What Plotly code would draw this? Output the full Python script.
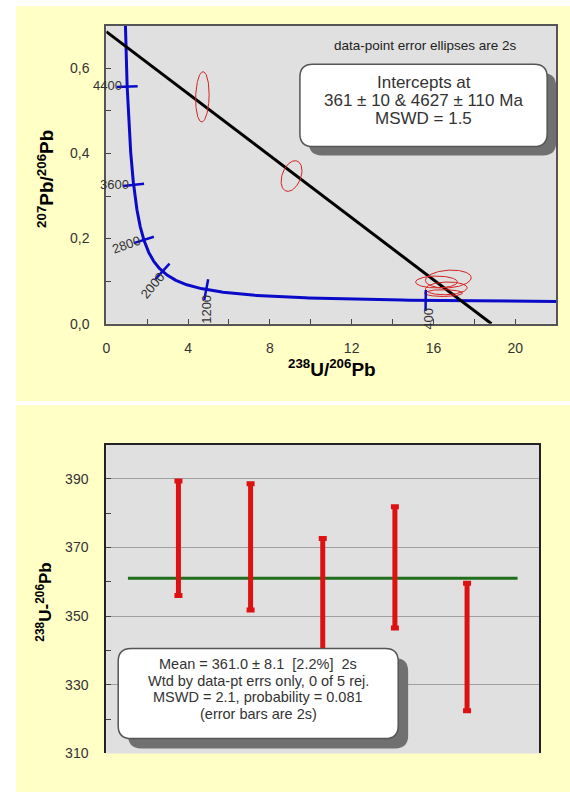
import numpy as np
import plotly.graph_objects as go

W, H = 570, 800

# ---------------- top panel: Tera-Wasserburg concordia ----------------
LAMBDA_238 = 1.55125e-10   # 1/yr
LAMBDA_235 = 9.8485e-10    # 1/yr
U238_U235 = 137.88

concordia_age_min_ma = 250
concordia_age_max_ma = 5000
concordia_steps = 500

age_tick_ages = [400, 1200, 2000, 2800, 3600, 4400]
age_tick_labels = ["400", "1200", "2000", "2800", "3600", "4400"]

intercept_lower_ma = 361
intercept_upper_ma = 4627

# data-point error ellipses (2s): centre, half-widths, error correlation
ell_x = [4.70, 9.06, 16.73, 16.15, 16.63, 16.49]
ell_y = [0.533, 0.347, 0.105, 0.098, 0.083, 0.072]
ell_sx = [0.33, 0.51, 1.12, 1.02, 1.02, 0.93]
ell_sy = [0.059, 0.036, 0.021, 0.014, 0.015, 0.008]
ell_rho = [0.10, 0.35, 0.15, 0.0, 0.10, 0.0]

x1_tick_vals = [0, 4, 8, 12, 16, 20]
x1_tick_text = ["0", "4", "8", "12", "16", "20"]
x1_minor_vals = [2, 6, 10, 14, 18]
y1_tick_vals = [0.0, 0.2, 0.4, 0.6]
y1_tick_text = ["0,0", "0,2", "0,4", "0,6"]
y1_minor_vals = [0.1, 0.3, 0.5]

# ---------------- bottom panel: weighted mean ----------------
spot = [1, 2, 3, 4, 5]
age_238 = [372.7, 370.2, 355.5, 364.2, 341.0]
age_err = [16.7, 18.4, 17.1, 17.7, 18.6]
mean_age = 361.0
mean_x_span = [0.3, 5.7]
y2_tick_vals = [310, 330, 350, 370, 390]
y2_minor_vals = [320, 340, 360, 380]

# ---------------- layout geometry (pixels) ----------------
P1 = dict(l=103, r=556, t=26, b=327)
P2 = dict(l=103, r=539, t=449, b=761)
X1_RANGE = [0, 22]
Y1_RANGE = [0, 0.7]
X2_RANGE = [0, 6]
Y2_RANGE = [310, 400]

YELLOW = "#FFFFC6"
GREY = "#E0E0E0"
FONT = "Arial, Liberation Sans, sans-serif"
TXT = "#333333"


def px(xp):
    return xp / W


def py(yp):
    return 1 - yp / H


def concordia(t_ma):
    t = np.asarray(t_ma, dtype=float) * 1e6
    e8 = np.exp(LAMBDA_238 * t) - 1
    e5 = np.exp(LAMBDA_235 * t) - 1
    return 1 / e8, e5 / e8 / U238_U235


fig = go.Figure()

# concordia curve
t_curve = np.linspace(concordia_age_min_ma, concordia_age_max_ma, concordia_steps)
cx, cy = concordia(t_curve)
fig.add_trace(go.Scatter(x=cx, y=cy, mode="lines",
                         line=dict(color="#0A0AC8", width=3),
                         xaxis="x", yaxis="y", hoverinfo="skip"))

# discordia through the two intercepts
xl, yl = concordia(intercept_lower_ma)
xu, yu = concordia(intercept_upper_ma)
slope = (yu - yl) / (xu - xl)
y0 = yu - slope * xu
x_end = -y0 / slope
fig.add_trace(go.Scatter(x=[0, x_end], y=[y0, 0], mode="lines",
                         line=dict(color="black", width=3),
                         xaxis="x", yaxis="y", hoverinfo="skip"))

# ellipses
theta = np.linspace(0, 2 * np.pi, 120)
for ex, ey, sx, sy, r in zip(ell_x, ell_y, ell_sx, ell_sy, ell_rho):
    xs = ex + sx * np.cos(theta)
    ys = ey + sy * (r * np.cos(theta) + np.sqrt(1 - r * r) * np.sin(theta))
    fig.add_trace(go.Scatter(x=xs, y=ys, mode="lines",
                             line=dict(color="#D42020", width=1),
                             xaxis="x", yaxis="y", hoverinfo="skip"))

# age ticks on concordia
kx = (P1["r"] - P1["l"]) / (X1_RANGE[1] - X1_RANGE[0])
ky = (P1["b"] - P1["t"]) / (Y1_RANGE[1] - Y1_RANGE[0])
tx, ty = concordia(age_tick_ages)
ta, tya = concordia(np.array(age_tick_ages) + 1.0)
angles = []
for x0_, y0_, x1_, y1_ in zip(tx, ty, ta, tya):
    phi = np.degrees(np.arctan2((y1_ - y0_) * ky, (x1_ - x0_) * kx))
    angles.append(-phi)
fig.add_trace(go.Scatter(x=tx, y=ty, mode="markers",
                         marker=dict(symbol="line-ns", size=15, angle=angles,
                                     line=dict(color="#0A0AC8", width=2.5)),
                         xaxis="x", yaxis="y", hoverinfo="skip"))

label_style = {
    "400": dict(xs=2.5, ys=-18, ang=-90),
    "1200": dict(xs=0, ys=-20, ang=-90),
    "2000": dict(xs=-10, ys=-14, ang=-50),
    "2800": dict(xs=-17, ys=-5, ang=-20),
    "3600": dict(xs=-19, ys=0, ang=0),
    "4400": dict(xs=-20, ys=1, ang=0),
}
annotations = []
for lab, x_, y_ in zip(age_tick_labels, tx, ty):
    s = label_style[lab]
    annotations.append(dict(x=x_, y=y_, xref="x", yref="y", text=lab,
                            showarrow=False, xshift=s["xs"], yshift=s["ys"],
                            textangle=s["ang"], xanchor="center", yanchor="middle",
                            font=dict(family=FONT, size=13, color=TXT)))

# ---------------- bottom panel traces ----------------
fig.add_trace(go.Scatter(x=mean_x_span, y=[mean_age, mean_age], mode="lines",
                         line=dict(color="#1E6E1E", width=3),
                         xaxis="x2", yaxis="y2", hoverinfo="skip"))
fig.add_trace(go.Scatter(x=spot, y=age_238, mode="markers",
                         marker=dict(size=1, color="rgba(0,0,0,0)"),
                         error_y=dict(type="data", array=age_err, visible=True,
                                      color="#DD1111", thickness=5, width=4),
                         xaxis="x2", yaxis="y2", hoverinfo="skip"))

# ---------------- shapes ----------------
shapes = []
# yellow panels
shapes.append(dict(type="rect", xref="paper", yref="paper", layer="below",
                   x0=px(12), x1=1, y0=py(405), y1=py(6),
                   fillcolor=YELLOW, line=dict(width=0)))
shapes.append(dict(type="rect", xref="paper", yref="paper", layer="below",
                   x0=px(12), x1=1, y0=0, y1=py(409),
                   fillcolor=YELLOW, line=dict(width=0)))
# grey plot areas
for P in (P1, P2):
    shapes.append(dict(type="rect", xref="paper", yref="paper", layer="below",
                       x0=px(P["l"]), x1=px(P["r"]), y0=py(P["b"]), y1=py(P["t"]),
                       fillcolor=GREY, line=dict(width=0)))


def rounded_path(l, t, r, b, rad):
    rx, ry = rad / W, rad / H
    L, R, T, B = px(l), px(r), py(t), py(b)
    return (f"M {L+rx},{T} L {R-rx},{T} Q {R},{T} {R},{T-ry} "
            f"L {R},{B+ry} Q {R},{B} {R-rx},{B} L {L+rx},{B} "
            f"Q {L},{B} {L},{B+ry} L {L},{T-ry} Q {L},{T} {L+rx},{T} Z")


def add_box(l, t, r, b, off):
    shapes.append(dict(type="path", xref="paper", yref="paper", layer="above",
                       path=rounded_path(l + off, t + off, r + off, b + off, 13),
                       fillcolor="#707070", line=dict(width=0)))
    shapes.append(dict(type="path", xref="paper", yref="paper", layer="above",
                       path=rounded_path(l, t, r, b, 13),
                       fillcolor="white", line=dict(color="#555555", width=1.5)))


add_box(298, 65, 547, 148, 9)
add_box(115, 655, 397, 746, 10)

# ---------------- text ----------------
def ptext(text, xp, yp, size, color=TXT, **kw):
    d = dict(x=px(xp), y=py(yp), xref="paper", yref="paper", text=text,
             showarrow=False, xanchor="center", yanchor="middle",
             font=dict(family=FONT, size=size, color=color))
    d.update(kw)
    annotations.append(d)


ptext("data-point error ellipses are 2s", 424, 46, 13.5, "#222222")
ptext("Intercepts at", 422.5, 83, 17)
ptext("361 ± 10 & 4627 ± 110 Ma", 422.5, 101.5, 17)
ptext("MSWD = 1.5", 422.5, 119.5, 17)

ptext("Mean = 361.0 ± 8.1\u00a0\u00a0[2.2%]\u00a0\u00a02s", 256, 671, 14.5)
ptext("Wtd by data-pt errs only, 0 of 5 rej.", 256, 688, 14.5)
ptext("MSWD = 2.1, probability = 0.081", 256, 704.5, 14.5)
ptext("(error bars are 2s)", 256, 721, 14.5)

title_font = dict(family=FONT, size=19, color="black")
annotations.append(dict(x=px(330), y=py(372), xref="paper", yref="paper",
                        text="<b><sup>238</sup>U/<sup>206</sup>Pb</b>", showarrow=False,
                        xanchor="center", yanchor="middle", font=title_font))
annotations.append(dict(x=px(42), y=py(181), xref="paper", yref="paper",
                        text="<b><sup>207</sup>Pb/<sup>206</sup>Pb</b>", showarrow=False,
                        textangle=-90, xanchor="center", yanchor="middle", font=title_font))
annotations.append(dict(x=px(40), y=py(608), xref="paper", yref="paper",
                        text="<b><sup>238</sup>U-<sup>206</sup>Pb</b>", showarrow=False,
                        textangle=-90, xanchor="center", yanchor="middle",
                        font=dict(family=FONT, size=17, color="black")))

tick_font = dict(family=FONT, size=14, color=TXT)

fig.update_layout(
    width=W, height=H, autosize=False,
    margin=dict(l=0, r=0, t=0, b=0),
    paper_bgcolor="white", plot_bgcolor="rgba(0,0,0,0)",
    showlegend=False,
    shapes=shapes, annotations=annotations,
    xaxis=dict(domain=[px(P1["l"]), px(P1["r"])], range=X1_RANGE, anchor="y",
               tickmode="array", tickvals=x1_tick_vals, ticktext=x1_tick_text,
               ticks="inside", ticklen=5, tickcolor="#444", tickwidth=1,
               minor=dict(tickmode="array", tickvals=x1_minor_vals, ticks="inside",
                          ticklen=5, tickcolor="#444", showgrid=False),
               showline=True, mirror=True, linecolor="#555", linewidth=2,
               showgrid=False, zeroline=False, tickfont=tick_font,
               ticklabelstandoff=10),
    yaxis=dict(domain=[py(P1["b"]), py(P1["t"])], range=Y1_RANGE, anchor="x",
               tickmode="array", tickvals=y1_tick_vals, ticktext=y1_tick_text,
               ticks="inside", ticklen=5, tickcolor="#444", tickwidth=1,
               minor=dict(tickmode="array", tickvals=y1_minor_vals, ticks="inside",
                          ticklen=5, tickcolor="#444", showgrid=False),
               showline=True, mirror=True, linecolor="#555", linewidth=2,
               showgrid=False, zeroline=False, tickfont=tick_font,
               ticklabelstandoff=12),
    xaxis2=dict(domain=[px(P2["l"]), px(P2["r"])], range=X2_RANGE, anchor="y2",
                side="top", showticklabels=False, ticks="",
                showline=True, linecolor="#222", linewidth=2,
                showgrid=False, zeroline=False),
    yaxis2=dict(domain=[py(P2["b"]), py(P2["t"])], range=Y2_RANGE, anchor="x2",
                tickmode="array", tickvals=y2_tick_vals,
                ticks="inside", ticklen=5, tickcolor="#444", tickwidth=1,
                minor=dict(tickmode="array", tickvals=y2_minor_vals, ticks="inside",
                           ticklen=5, tickcolor="#444", showgrid=False),
                showline=True, mirror=True, linecolor="#222", linewidth=2,
                showgrid=True, gridcolor="#A0A0A0", gridwidth=1,
                zeroline=False, tickfont=tick_font, ticklabelstandoff=13),
)

fig.write_html("out.html",
               config={"displayModeBar": False},
               post_script="document.body.style.margin='0';document.body.style.overflow='hidden';")
